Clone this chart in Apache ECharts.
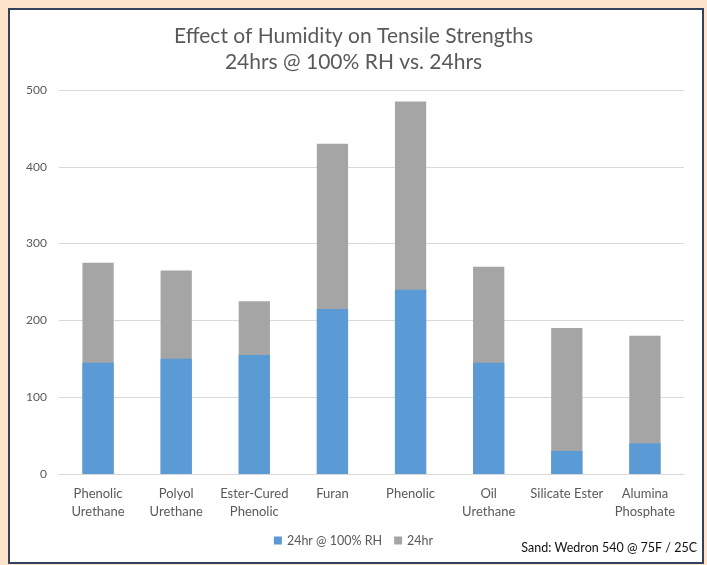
<!DOCTYPE html>
<html>
<head>
<meta charset="utf-8">
<script src="https://cdn.jsdelivr.net/npm/echarts@6/dist/echarts.min.js"></script>
<style>
  html, body { margin: 0; padding: 0; background: #fde3c9; }
  #panel {
    position: absolute; left: 8px; top: 8px;
    width: 692px; height: 552px;
    border: 2px solid #33425a; background: #fff;
  }
  #chart { position: absolute; left: 0; top: 0; width: 707px; height: 565px; }
</style>
</head>
<body>
<div id="panel"></div>
<div id="chart"></div>
<script>
// 数据
const categories = [
  'Phenolic\nUrethane', 'Polyol\nUrethane', 'Ester-Cured\nPhenolic', 'Furan',
  'Phenolic', 'Oil\nUrethane', 'Silicate Ester', 'Alumina\nPhosphate'
]
const humid = [145, 150, 155, 215, 240, 145, 30, 40]   // 24hr @ 100% RH
const dry = [275, 265, 225, 430, 485, 270, 190, 180]    // 24hr

const font = 'Lato, "Open Sans", sans-serif'

let myChart = echarts.init(document.getElementById('chart'))
myChart.setOption({
  backgroundColor: 'transparent',
  textStyle: { fontFamily: font },
  title: {
    text: 'Effect of Humidity on Tensile Strengths\n24hrs @ 100% RH vs. 24hrs',
    left: 'center',
    top: 18,
    textStyle: {
      fontFamily: font, fontSize: 21, fontWeight: 'normal',
      color: '#595959', lineHeight: 26
    }
  },
  legend: {
    data: ['24hr @ 100% RH', '24hr'],
    left: 'center',
    top: 529,
    itemWidth: 8,
    itemHeight: 8,
    itemGap: 12,
    icon: 'rect',
    textStyle: { fontFamily: font, fontSize: 12.5, color: '#595959' }
  },
  grid: { left: 59, right: 23, top: 90, bottom: 91 },
  xAxis: {
    type: 'category',
    data: categories,
    axisLine: { lineStyle: { color: '#d9d9d9' } },
    axisTick: { show: false },
    axisLabel: {
      interval: 0, margin: 11, fontSize: 13, lineHeight: 18,
      color: '#595959', fontFamily: font
    }
  },
  yAxis: {
    type: 'value',
    min: 0, max: 500, interval: 100,
    axisLine: { show: false },
    axisTick: { show: false },
    axisLabel: { margin: 12, fontSize: 12, color: '#595959', fontFamily: font },
    splitLine: { lineStyle: { color: '#d9d9d9' } }
  },
  series: [
    {
      name: '24hr',
      type: 'bar',
      data: dry,
      barWidth: '40%',
      barGap: '-100%',
      itemStyle: { color: '#a5a5a5' },
      z: 2
    },
    {
      name: '24hr @ 100% RH',
      type: 'bar',
      data: humid,
      barWidth: '40%',
      itemStyle: { color: '#5b9bd5' },
      z: 3
    }
  ],
  graphic: [
    {
      type: 'text',
      right: 10,
      top: 541,
      style: {
        text: 'Sand: Wedron 540 @ 75F / 25C',
        fill: '#111',
        font: '12.5px ' + font
      }
    }
  ]
})
</script>
</body>
</html>
